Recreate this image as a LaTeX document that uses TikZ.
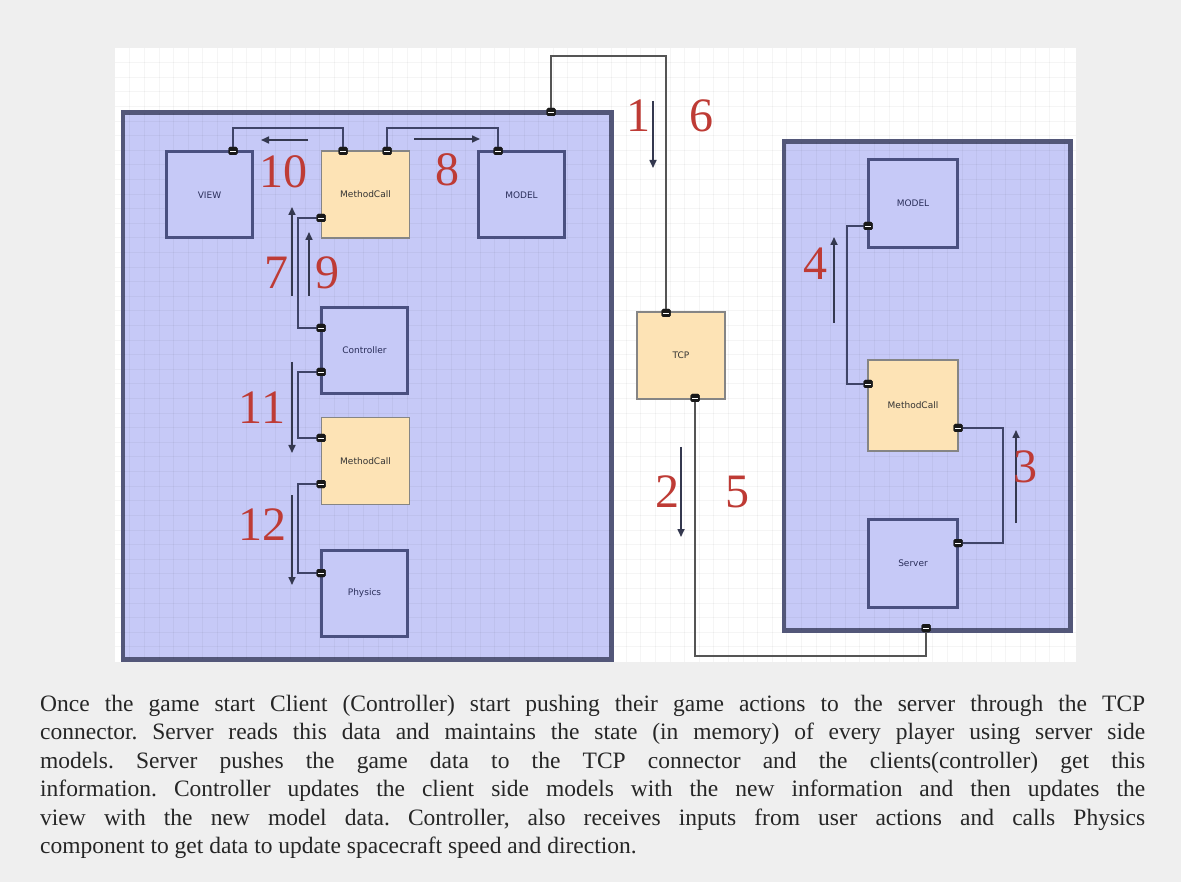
\documentclass[tikz,border=0pt]{standalone}
\usepackage{fontspec}
\setmainfont{Liberation Serif}
\newfontfamily\boxfont{DejaVu Sans}
\usetikzlibrary{arrows.meta}
\definecolor{bg}{HTML}{EFEFEF}
\definecolor{panel}{HTML}{C6C9F7}
\definecolor{panelline}{HTML}{535779}
\definecolor{compline}{HTML}{4A5080}
\definecolor{peach}{HTML}{FDE3B5}
\definecolor{peachline}{HTML}{858585}
\definecolor{numred}{HTML}{BE3B35}
\definecolor{wire}{HTML}{3F4468}
\definecolor{extwire}{HTML}{555555}
\definecolor{flowc}{HTML}{34384F}
\definecolor{navytext}{HTML}{2A2E5A}
\tikzset{
  panelbox/.style={draw=panelline, fill=panel, line width=3pt, inner sep=0, anchor=north west},
  comp/.style={draw=compline, fill=panel, line width=3pt, minimum width=86pt, minimum height=86pt, inner sep=0, font=\boxfont\fontsize{9}{10}\selectfont, text=navytext},
  call/.style={draw=peachline, fill=peach, line width=1.5pt, minimum width=88pt, minimum height=87pt, inner sep=0, font=\boxfont\fontsize{9}{10}\selectfont, text=black!80},
  port/.style={fill=black!90, draw=none, rounded corners=1.5pt, minimum width=9pt, minimum height=8pt, inner sep=0,
    path picture={\draw[white, line width=0.9pt] ([xshift=1.5pt]path picture bounding box.west) -- ([xshift=-1.5pt]path picture bounding box.east);}},
  wireline/.style={draw=wire, line width=1.4pt},
  extline/.style={draw=extwire, line width=1.2pt},
  flow/.style={draw=flowc, line width=1.6pt, -{Triangle[length=8pt, width=7pt]}},
  num/.style={text=numred, font=\fontsize{48}{48}\selectfont, inner sep=0},
  gridline/.style={draw=black, opacity=0.04, line width=0.6pt},
}
\begin{document}
\begin{tikzpicture}[x=1pt, y=-1pt]
\useasboundingbox (0,0) rectangle (1181,882);
\fill[bg] (0,0) rectangle (1181,882);
\fill[white] (115,48) rectangle (1076,662);

% panels
\node[panelbox, minimum width=487pt, minimum height=545pt] (client) at (122,112) {};
\node[panelbox, minimum width=285pt, minimum height=487pt] (serverside) at (783,141) {};

% faint grid
\foreach \gx in {129.6,144.2,...,1075} {\draw[gridline] (\gx,48) -- (\gx,662);}
\foreach \gy in {62.6,77.2,...,661} {\draw[gridline] (115,\gy) -- (1076,\gy);}
\draw[panelline, line width=3pt] (client.north west) rectangle (client.south east);
\draw[panelline, line width=3pt] (serverside.north west) rectangle (serverside.south east);

% components (client)
\node[comp] (view) at (209.5,195) {VIEW};
\node[call] (mc1) at (365.5,194.5) {MethodCall};
\node[comp] (model) at (521.5,195) {MODEL};
\node[comp] (ctrl) at (364.5,350.5) {Controller};
\node[call] (mc2) at (365.5,461) {MethodCall};
\node[comp] (phys) at (364.5,593.5) {Physics};
% TCP
\node[call] (tcp) at (681,355.5) {TCP};
% server side
\node[comp, minimum width=89pt, minimum height=88pt] (rmodel) at (913,203.5) {MODEL};
\node[call, minimum width=90pt, minimum height=91pt] (rmc) at (913,405.5) {MethodCall};
\node[comp, minimum width=89pt, minimum height=88pt] (server) at (913,563.5) {Server};

% ports
\node[port] (pc) at (551,112) {};
\node[port] (ptcpT) at (666,313) {};
\node[port] (ptcpB) at (695,398) {};
\node[port] (psp) at (926,628) {};
\node[port] (pm1a) at (343,151) {};
\node[port] (pm1b) at (387,151) {};
\node[port] (pview) at (233,151) {};
\node[port] (pmodel) at (498,151) {};
\node[port] (pm1l) at (321,218) {};
\node[port] (pctrl1) at (321,328) {};
\node[port] (pctrl2) at (321,372) {};
\node[port] (pm2a) at (321,438) {};
\node[port] (pm2b) at (321,484) {};
\node[port] (pphys) at (321,573) {};
\node[port] (prmodel) at (868,226) {};
\node[port] (prmc1) at (868,384) {};
\node[port] (prmc2) at (958,428) {};
\node[port] (pserv) at (958,543) {};

% connectors
\draw[extline] (pc.center) -- ++(0,-56) -| (ptcpT.center);
\draw[extline] (ptcpB.center) -- ++(0,258) -| (psp.center);
\draw[wireline] (pm1a.center) -- ++(0,-23) -| (pview.center);
\draw[wireline] (pm1b.center) -- ++(0,-23) -| (pmodel.center);
\draw[wireline] (pm1l.center) -- ++(-23,0) |- (pctrl1.center);
\draw[wireline] (pctrl2.center) -- ++(-23,0) |- (pm2a.center);
\draw[wireline] (pm2b.center) -- ++(-23,0) |- (pphys.center);
\draw[wireline] (prmodel.center) -- ++(-21,0) |- (prmc1.center);
\draw[wireline] (prmc2.center) -- ++(45,0) |- (pserv.center);

% redraw ports on top
\foreach \p in {pc,ptcpT,ptcpB,psp,pm1a,pm1b,pview,pmodel,pm1l,pctrl1,pctrl2,pm2a,pm2b,pphys,prmodel,prmc1,prmc2,pserv}{
  \node[port] at (\p.center) {};
}

% flow arrows
\draw[flow] (308,140) -- (261,140);
\draw[flow] (414,139) -- (480,139);
\draw[flow] (292,296) -- (292,207);
\draw[flow] (309,296) -- (309,232);
\draw[flow] (292,362) -- (292,453);
\draw[flow] (292,495) -- (292,585);
\draw[flow] (653,101) -- (653,168);
\draw[flow] (681,447) -- (681,537);
\draw[flow] (834,323) -- (834,237);
\draw[flow] (1016,523) -- (1016,430);

% numbers
\node[num] (n10) at (283,172) {10};
\node[num] (n8) at (447,170) {8};
\node[num] (n7) at (276,273) {7};
\node[num] (n9) at (327,273) {9};
\node[num] (n11) at (262,408) {11};
\node[num] (n12) at (262,525) {12};
\node[num] (n1) at (638,116) {1};
\node[num] (n6) at (701,116) {6};
\node[num] (n2) at (667,492) {2};
\node[num] (n5) at (737,492) {5};
\node[num] (n4) at (815,264) {4};
\node[num] (n3) at (1025,467) {3};

% caption
\node[anchor=north west, inner sep=0, text width=1105pt, align=justify, text=black!85,
      font=\fontsize{23.5}{28.4}\selectfont\frenchspacing] (caption) at (40,695) {%
Once the game start Client (Controller) start pushing their game actions to the server through the TCP\linebreak
connector. Server reads this data and maintains the state (in memory) of every player using server side\linebreak
models. Server pushes the game data to the TCP connector and the clients(controller) get this\linebreak
information. Controller updates the client side models with the new information and then updates the\linebreak
view with the new model data. Controller, also receives inputs from user actions and calls Physics\linebreak
component to get data to update spacecraft speed and direction.};
\end{tikzpicture}
\end{document}
